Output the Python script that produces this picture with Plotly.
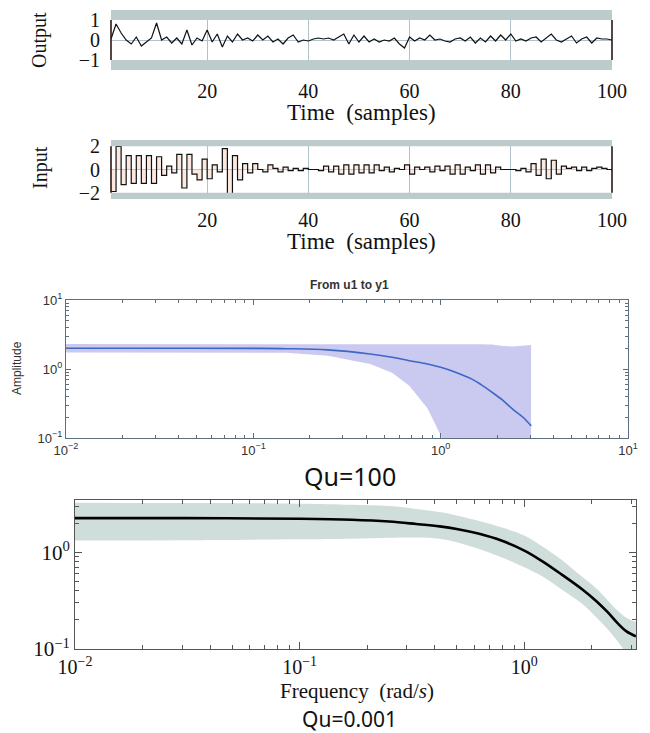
import math
import plotly.graph_objects as go

# ---------------- data ----------------
time_samples = list(range(1, 101))
output_y = [0.05, 0.8, 0.35, 0.0, -0.2, 0.15, -0.3, -0.1, 0.1, 0.85,
            0.0, 0.15, -0.15, 0.1, -0.2, 0.5, -0.25, 0.1, -0.05, 0.5,
            -0.1, 0.3, -0.35, 0.2, -0.1, 0.3, 0.0, 0.1, -0.05, 0.25,
            0.0, 0.2, -0.1, 0.05, -0.2, 0.1, 0.25, -0.1, 0.0, -0.05,
            0.05, 0.1, 0.05, 0.1, 0.0, 0.15, 0.3, -0.2, 0.25, -0.1,
            0.2, -0.1, 0.05, -0.1, 0.0, -0.05, 0.1, -0.2, -0.4, 0.15,
            -0.05, 0.1, 0.0, 0.25, 0.0, 0.05, -0.05, -0.1, 0.05, 0.1,
            -0.05, 0.15, -0.15, 0.1, -0.1, 0.2, -0.05, 0.25, 0.0, 0.3,
            -0.05, 0.05, -0.05, 0.1, 0.15, -0.1, 0.1, 0.3, 0.0, -0.1,
            0.05, 0.2, -0.15, 0.05, 0.15, -0.15, 0.1, 0.05, 0.05, 0.0]
input_u = [-1.9, 2.0, -1.3, 1.2, -1.2, 1.2, -1.2, 1.2, -1.2, 1.1,
           -0.5, 0.3, -0.3, 1.3, -1.6, 1.3, -0.4, -0.9, 0.9, -0.8,
           0.4, -0.2, 1.8, -2.1, 1.2, -0.9, 0.5, -0.3, 0.5, 0.0,
           -0.2, 0.4, 0.1, -0.2, 0.2, -0.1, 0.1, -0.1, 0.1, 0.0,
           0.0, -0.1, 0.3, -0.2, 0.3, -0.4, 0.4, -0.4, 0.4, -0.3,
           0.4, -0.3, 0.4, -0.1, 0.2, -0.2, 0.1, 0.0, 0.4, -0.4,
           0.2, 0.0, 0.2, -0.2, 0.3, -0.1, 0.3, -0.4, 0.4, -0.4,
           0.2, -0.1, 0.4, -0.4, 0.4, -0.3, 0.2, 0.0, 0.0, 0.0,
           -0.1, 0.1, -0.2, 0.5, -0.5, 0.9, -0.8, 0.8, -0.4, 0.3,
           0.1, 0.2, -0.1, 0.2, -0.1, 0.1, 0.2, 0.1, 0.0, -0.1]
output_limit = 1.0
input_limit = 2.0
output_range = [-1.5, 1.5]
input_range = [-2.55, 2.55]
time_ticks = [20, 40, 60, 80, 100]

# Qu = 100 (identified model, with uncertainty band)
freq_qu100 = [0.01, 0.03, 0.1, 0.15, 0.25, 0.42, 0.55, 0.68, 0.85, 1.0,
              1.2, 1.46, 1.65, 1.88, 2.15, 2.43, 2.75, 3.04]
amp_qu100 = [2.0, 2.0, 1.99, 1.97, 1.89, 1.65, 1.48, 1.32, 1.18, 1.06,
             0.9, 0.72, 0.59, 0.46, 0.35, 0.26, 0.2, 0.15]
upper_qu100 = [2.3, 2.3, 2.28, 2.28, 2.28, 2.28, 2.28, 2.3, 2.32, 2.32,
               2.32, 2.3, 2.28, 2.26, 2.15, 2.12, 2.18, 2.22]
lower_qu100 = [1.74, 1.74, 1.74, 1.72, 1.56, 1.18, 0.88, 0.57, 0.27, 0.11,
               0.03, 0.03, 0.03, 0.03, 0.03, 0.03, 0.03, 0.03]

# Qu = 0.001
freq_qu001 = [0.01, 0.03, 0.1, 0.17, 0.25, 0.33, 0.42, 0.5, 0.63, 0.79,
              1.0, 1.19, 1.45, 1.82, 2.1, 2.35, 2.6, 2.85, 3.14]
amp_qu001 = [2.25, 2.25, 2.22, 2.17, 2.08, 1.96, 1.85, 1.74, 1.55, 1.32,
             1.04, 0.82, 0.6, 0.41, 0.31, 0.24, 0.185, 0.152, 0.135]
upper_qu001 = [3.24, 3.22, 3.18, 3.1, 3.0, 2.8, 2.6, 2.4, 2.1, 1.81,
               1.49, 1.17, 0.85, 0.55, 0.42, 0.32, 0.25, 0.21, 0.19]
lower_qu001 = [1.32, 1.33, 1.36, 1.38, 1.41, 1.42, 1.38, 1.27, 1.08, 0.89,
               0.70, 0.57, 0.42, 0.29, 0.21, 0.16, 0.12, 0.09, 0.07]

# ---------------- styling ----------------
OFF = 8                      # page body margin offset
W, H = 650 - OFF, 733 - OFF  # figure size so the page fills the window
SERIF = "Liberation Serif"
SANS = "Liberation Sans"
BAND = "#bccbcb"
GRID = "#b0c2ca"


def xd(a, b):
    return [(a - OFF) / W, (b - OFF) / W]


def yd(top, bottom):
    return [1 - (bottom - OFF) / H, 1 - (top - OFF) / H]


def minor_vals(lo_exp, hi_exp):
    return [m * 10 ** e for e in range(lo_exp, hi_exp) for m in range(2, 10)]


def sup(e):
    s = str(e).replace("-", "\u2212")
    return "10<sup>%s</sup>" % s


fig = go.Figure()

# Panel 1: output
fig.add_trace(go.Scatter(x=time_samples, y=output_y, mode="lines",
                         line=dict(color="#111111", width=1.2),
                         xaxis="x", yaxis="y", showlegend=False))
# Panel 2: input
fig.add_trace(go.Scatter(x=time_samples, y=input_u, mode="lines",
                         line=dict(color="#111111", width=1.2, shape="hv"),
                         fill="tozeroy", fillcolor="rgba(250,205,185,0.45)",
                         xaxis="x2", yaxis="y2", showlegend=False))
# Panel 3: Qu=100
fig.add_trace(go.Scatter(x=freq_qu100, y=lower_qu100, mode="lines",
                         line=dict(width=0, color="rgba(0,0,0,0)"),
                         xaxis="x3", yaxis="y3", showlegend=False))
fig.add_trace(go.Scatter(x=freq_qu100, y=upper_qu100, mode="lines",
                         line=dict(width=0, color="rgba(0,0,0,0)"),
                         fill="tonexty", fillcolor="rgba(196,196,238,0.9)",
                         xaxis="x3", yaxis="y3", showlegend=False))
fig.add_trace(go.Scatter(x=freq_qu100, y=amp_qu100, mode="lines",
                         line=dict(color="#3d66c6", width=1.6, shape="spline"),
                         xaxis="x3", yaxis="y3", showlegend=False))
# Panel 4: Qu=0.001
fig.add_trace(go.Scatter(x=freq_qu001, y=lower_qu001, mode="lines",
                         line=dict(width=0, color="rgba(0,0,0,0)", shape="spline"),
                         xaxis="x4", yaxis="y4", showlegend=False))
fig.add_trace(go.Scatter(x=freq_qu001, y=upper_qu001, mode="lines",
                         line=dict(width=0, color="rgba(0,0,0,0)", shape="spline"),
                         fill="tonexty", fillcolor="#d0dedb",
                         xaxis="x4", yaxis="y4", showlegend=False))
fig.add_trace(go.Scatter(x=freq_qu001, y=amp_qu001, mode="lines",
                         line=dict(color="#000000", width=2.6, shape="spline"),
                         xaxis="x4", yaxis="y4", showlegend=False))

time_axis = dict(range=[1, 100], tickmode="array", tickvals=time_ticks,
                 showgrid=True, gridcolor=GRID, gridwidth=1, zeroline=False,
                 showline=False, ticks="outside", ticklen=3, automargin=False,
                 tickcolor="rgba(0,0,0,0)",
                 tickfont=dict(family=SERIF, size=20, color="#111"))

fig.update_layout(
    width=W, height=H, margin=dict(l=0, r=0, t=0, b=0, pad=0, autoexpand=False),
    paper_bgcolor="white", plot_bgcolor="white", showlegend=False,
    xaxis=dict(time_axis, domain=xd(111, 612), anchor="y"),
    yaxis=dict(domain=yd(10, 70), range=output_range, anchor="x",
               tickmode="array", tickvals=[-1, 0, 1], automargin=False,
               ticktext=["\u22121", "0", "1"], showgrid=False,
               zeroline=True, zerolinecolor=GRID, zerolinewidth=1,
               ticks="outside", ticklen=6, tickcolor="rgba(0,0,0,0)",
               tickfont=dict(family=SERIF, size=20, color="#111")),
    xaxis2=dict(time_axis, domain=xd(111, 612), anchor="y2"),
    yaxis2=dict(domain=yd(140, 199), range=input_range, anchor="x2",
                tickmode="array", tickvals=[-2, 0, 2], automargin=False,
                ticktext=["\u22122", "0", "2"], showgrid=False,
                zeroline=True, zerolinecolor=GRID, zerolinewidth=1,
                ticks="outside", ticklen=6, tickcolor="rgba(0,0,0,0)",
                tickfont=dict(family=SERIF, size=20, color="#111")),
    xaxis3=dict(type="log", range=[-2, 1], domain=xd(66, 628), anchor="y3",
                tickmode="array", tickvals=[0.01, 0.1, 1, 10], automargin=False,
                ticktext=[sup(-2), sup(-1), sup(0), sup(1)],
                showline=True, mirror="allticks", linecolor="#5d6f7d", linewidth=1,
                ticks="inside", ticklen=5, tickcolor="#5d6f7d", showgrid=False,
                zeroline=False,
                minor=dict(tickmode="array", tickvals=minor_vals(-2, 1),
                           ticks="inside", ticklen=3, tickcolor="#5d6f7d"),
                tickfont=dict(family=SANS, size=13, color="#333")),
    yaxis3=dict(type="log", range=[-1, 1], domain=yd(300, 438), anchor="x3",
                tickmode="array", tickvals=[0.1, 1, 10], automargin=False,
                ticktext=[sup(-1), sup(0), sup(1)],
                showline=True, mirror="allticks", linecolor="#5d6f7d", linewidth=1,
                ticks="inside", ticklen=5, tickcolor="#5d6f7d", showgrid=False,
                zeroline=False,
                minor=dict(tickmode="array", tickvals=minor_vals(-1, 1),
                           ticks="inside", ticklen=3, tickcolor="#5d6f7d"),
                tickfont=dict(family=SANS, size=13, color="#333")),
    xaxis4=dict(type="log", range=[-2, math.log10(math.pi)], domain=xd(75, 636),
                anchor="y4", tickmode="array", tickvals=[0.01, 0.1, 1],
                ticktext=[sup(-2), sup(-1), sup(0)], automargin=False,
                showline=True, mirror="allticks", linecolor="#555", linewidth=1,
                ticks="inside", ticklen=7, tickcolor="#555", showgrid=False,
                zeroline=False,
                minor=dict(tickmode="array", tickvals=minor_vals(-2, 1),
                           ticks="inside", ticklen=4, tickcolor="#555"),
                tickfont=dict(family=SERIF, size=20, color="#111")),
    yaxis4=dict(type="log", range=[-1, 0.54], domain=yd(500, 649), anchor="x4",
                tickmode="array", tickvals=[0.1, 1], automargin=False,
                ticktext=[sup(-1), sup(0)],
                showline=True, mirror="allticks", linecolor="#555", linewidth=1,
                ticks="inside", ticklen=7, tickcolor="#555", showgrid=False,
                zeroline=False,
                minor=dict(tickmode="array", tickvals=minor_vals(-1, 1),
                           ticks="inside", ticklen=4, tickcolor="#555"),
                tickfont=dict(family=SERIF, size=21, color="#111")),
)

# constraint bands and borders for time panels
shapes = []
for ya, lim, rng in (("y", output_limit, output_range), ("y2", input_limit, input_range)):
    xa = "x" if ya == "y" else "x2"
    shapes.append(dict(type="rect", xref=xa + " domain", yref=ya, x0=0, x1=1,
                       y0=lim, y1=rng[1], fillcolor=BAND, line=dict(width=0),
                       layer="above"))
    shapes.append(dict(type="rect", xref=xa + " domain", yref=ya, x0=0, x1=1,
                       y0=rng[0], y1=-lim, fillcolor=BAND, line=dict(width=0),
                       layer="above"))
    for xx in (0, 1):
        shapes.append(dict(type="line", xref=xa + " domain", yref=ya, x0=xx, x1=xx,
                           y0=-lim, y1=lim, line=dict(color="#2a1a12", width=1.6),
                           layer="above"))
fig.update_layout(shapes=shapes)


def ann(text, x, y, size, family, angle=0, bold=False, color="#111"):
    fig.add_annotation(text=("<b>%s</b>" % text) if bold else text,
                       x=(x - OFF) / W, y=1 - (y - OFF) / H,
                       xref="paper", yref="paper",
                       showarrow=False, textangle=angle,
                       font=dict(family=family, size=size, color=color),
                       xanchor="center", yanchor="middle")


ann("Output", 40, 40, 20, SERIF, angle=-90)
ann("Time  (samples)", 362, 112, 23, SERIF)
ann("Input", 40, 168, 20, SERIF, angle=-90)
ann("Time  (samples)", 362, 242, 23, SERIF)
ann("From u1 to y1", 350, 285, 12, SANS, bold=True, color="#333")
ann("Amplitude", 17, 368, 12, SANS, angle=-90, color="#333")
ann("Qu=100", 350, 476, 25, "Noto Sans", color="#111")
ann("Frequency  (rad/<i>s</i>)", 357, 691, 21, SERIF)
ann("Qu=0.001", 350, 719, 21, "Noto Sans", color="#111")

fig.write_html("out.html")
